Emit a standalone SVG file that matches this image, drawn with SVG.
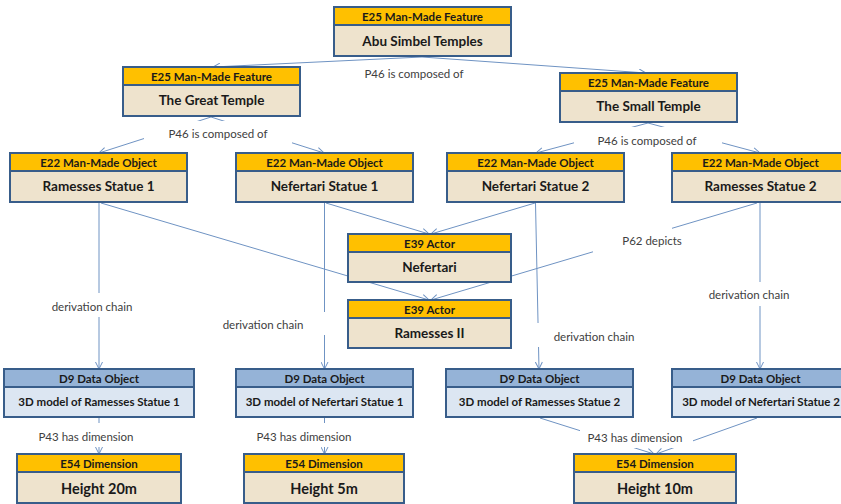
<svg xmlns="http://www.w3.org/2000/svg" width="841" height="504" viewBox="0 0 841 504">
<defs>
<marker id="arr" viewBox="0 0 8 8" refX="7.5" refY="4" markerWidth="8" markerHeight="8" markerUnits="userSpaceOnUse" orient="auto">
<path d="M0.5,0.5 L7.5,4 L0.5,7.5" fill="none" stroke="#6f93c3" stroke-width="1"/>
</marker>
<style>
.bx{stroke:#385d8a;stroke-width:2}
.eb{fill:#eee3cd}
.eh{fill:#ffc000}
.db{fill:#dce6f2}
.dh{fill:#95b3d7}
.ht{font-family:Lato,"Liberation Sans",sans-serif;font-weight:bold;font-size:11.5px;fill:#1a1a1a;text-anchor:middle;dominant-baseline:central}
.bt{font-family:Lato,"Liberation Sans",sans-serif;font-weight:bold;font-size:13.5px;fill:#1a1a1a;text-anchor:middle;dominant-baseline:central}
.dt{font-family:Lato,"Liberation Sans",sans-serif;font-weight:bold;font-size:11.5px;fill:#1a1a1a;text-anchor:middle;dominant-baseline:central}
.ht2{font-family:Lato,"Liberation Sans",sans-serif;font-weight:bold;font-size:14.5px;fill:#1a1a1a;text-anchor:middle;dominant-baseline:central}
.cn{fill:none;stroke:#6f93c3;stroke-width:1;marker-end:url(#arr)}
.lb{fill:#ffffff}
.lt{font-family:Lato,"Liberation Sans",sans-serif;font-size:11.5px;fill:#404040;text-anchor:middle;dominant-baseline:central}
</style>
</defs>
<rect width="841" height="504" fill="#ffffff"/>
<g id="connectors">
<line class="cn" x1="422" y1="57" x2="213" y2="67"/>
<line class="cn" x1="422" y1="57" x2="646" y2="73"/>
<line class="cn" x1="211" y1="117" x2="99" y2="153"/>
<line class="cn" x1="211" y1="117" x2="324" y2="153"/>
<line class="cn" x1="648" y1="123" x2="536" y2="153"/>
<line class="cn" x1="648" y1="123" x2="760" y2="153"/>
<line class="cn" x1="101" y1="203" x2="429" y2="300"/>
<line class="cn" x1="326" y1="203" x2="429" y2="234"/>
<line class="cn" x1="535" y1="203" x2="431" y2="234"/>
<line class="cn" x1="757" y1="203" x2="431" y2="300"/>
<line class="cn" x1="99" y1="203" x2="99" y2="369"/>
<line class="cn" x1="324.5" y1="203" x2="324.5" y2="369"/>
<line class="cn" x1="535.5" y1="203" x2="539" y2="369"/>
<line class="cn" x1="760" y1="203" x2="760" y2="369"/>
<line class="cn" x1="99" y1="418" x2="99" y2="454"/>
<line class="cn" x1="324.5" y1="418" x2="324.5" y2="454"/>
<line class="cn" x1="540" y1="418" x2="654" y2="454"/>
<line class="cn" x1="757" y1="418" x2="656" y2="454"/>
</g>
<g id="labels">
<text class="lt" x="414" y="73">P46 is composed of</text>
<rect class="lb" x="144" y="121" width="148" height="27"/>
<text class="lt" x="218" y="133">P46 is composed of</text>
<rect class="lb" x="574" y="127" width="148" height="24"/>
<text class="lt" x="647" y="140">P46 is composed of</text>
<rect class="lb" x="593" y="227" width="79" height="28"/>
<text class="lt" x="652" y="240">P62 depicts</text>
<rect class="lb" x="40" y="293" width="103" height="24"/>
<text class="lt" x="92" y="306">derivation chain</text>
<rect class="lb" x="212" y="312" width="120" height="23"/>
<text class="lt" x="263" y="324">derivation chain</text>
<rect class="lb" x="532" y="323" width="118" height="24"/>
<text class="lt" x="594" y="336">derivation chain</text>
<rect class="lb" x="700" y="282" width="100" height="24"/>
<text class="lt" x="749" y="294">derivation chain</text>
<rect class="lb" x="30" y="423" width="112" height="24"/>
<text class="lt" x="86" y="436">P43 has dimension</text>
<rect class="lb" x="250" y="423" width="108" height="24"/>
<text class="lt" x="304" y="436">P43 has dimension</text>
<rect class="lb" x="580" y="430" width="113" height="18"/>
<text class="lt" x="635" y="437">P43 has dimension</text>
</g>
<g id="n1"><rect class="bx eb" x="334" y="7" width="177" height="49"/><rect class="bx eh" x="334" y="7" width="177" height="18"/><text class="ht" x="422.5" y="16.5">E25 Man-Made Feature</text><text class="bt" x="422.5" y="40.5">Abu Simbel Temples</text></g>
<g id="n2"><rect class="bx eb" x="123" y="67" width="177" height="49"/><rect class="bx eh" x="123" y="67" width="177" height="18"/><text class="ht" x="211.5" y="76.5">E25 Man-Made Feature</text><text class="bt" x="211.5" y="100">The Great Temple</text></g>
<g id="n3"><rect class="bx eb" x="560" y="73" width="177" height="49"/><rect class="bx eh" x="560" y="73" width="177" height="18"/><text class="ht" x="648.5" y="82.5">E25 Man-Made Feature</text><text class="bt" x="648.5" y="106">The Small Temple</text></g>
<g id="n4"><rect class="bx eb" x="10" y="153" width="177" height="49"/><rect class="bx eh" x="10" y="153" width="177" height="18"/><text class="ht" x="98.5" y="162.5">E22 Man-Made Object</text><text class="bt" x="98.5" y="186">Ramesses Statue 1</text></g>
<g id="n5"><rect class="bx eb" x="236" y="153" width="177" height="49"/><rect class="bx eh" x="236" y="153" width="177" height="18"/><text class="ht" x="324.5" y="162.5">E22 Man-Made Object</text><text class="bt" x="324.5" y="186">Nefertari Statue 1</text></g>
<g id="n6"><rect class="bx eb" x="447" y="153" width="177" height="49"/><rect class="bx eh" x="447" y="153" width="177" height="18"/><text class="ht" x="535.5" y="162.5">E22 Man-Made Object</text><text class="bt" x="535.5" y="186">Nefertari Statue 2</text></g>
<g id="n7"><rect class="bx eb" x="672" y="153" width="177" height="49"/><rect class="bx eh" x="672" y="153" width="177" height="18"/><text class="ht" x="760.5" y="162.5">E22 Man-Made Object</text><text class="bt" x="760.5" y="186">Ramesses Statue 2</text></g>
<g id="n8"><rect class="bx eb" x="348" y="234" width="163" height="48"/><rect class="bx eh" x="348" y="234" width="163" height="18"/><text class="ht" x="429.5" y="243.5">E39 Actor</text><text class="bt" x="429.5" y="267">Nefertari</text></g>
<g id="n9"><rect class="bx eb" x="348" y="300" width="163" height="48"/><rect class="bx eh" x="348" y="300" width="163" height="18"/><text class="ht" x="429.5" y="309.5">E39 Actor</text><text class="bt" x="429.5" y="333">Ramesses II</text></g>
<g id="n10"><rect class="bx db" x="4" y="369" width="190" height="48"/><rect class="bx dh" x="4" y="369" width="190" height="18"/><text class="ht" x="99" y="378.5">D9 Data Object</text><text class="dt" x="99" y="401.5">3D model of Ramesses Statue 1</text></g>
<g id="n11"><rect class="bx db" x="236" y="369" width="177" height="48"/><rect class="bx dh" x="236" y="369" width="177" height="18"/><text class="ht" x="324.5" y="378.5">D9 Data Object</text><text class="dt" x="324.5" y="401.5">3D model of Nefertari Statue 1</text></g>
<g id="n12"><rect class="bx db" x="446" y="369" width="187" height="48"/><rect class="bx dh" x="446" y="369" width="187" height="18"/><text class="ht" x="539.5" y="378.5">D9 Data Object</text><text class="dt" x="539.5" y="401.5">3D model of Ramesses Statue 2</text></g>
<g id="n13"><rect class="bx db" x="672" y="369" width="177" height="48"/><rect class="bx dh" x="672" y="369" width="177" height="18"/><text class="ht" x="760.5" y="378.5">D9 Data Object</text><text class="dt" x="761" y="401.5">3D model of Nefertari Statue 2</text></g>
<g id="n14"><rect class="bx eb" x="17" y="454" width="164" height="49"/><rect class="bx eh" x="17" y="454" width="164" height="18"/><text class="ht" x="99" y="463.5">E54 Dimension</text><text class="ht2" x="99" y="488">Height 20m</text></g>
<g id="n15"><rect class="bx eb" x="244" y="454" width="160" height="49"/><rect class="bx eh" x="244" y="454" width="160" height="18"/><text class="ht" x="324" y="463.5">E54 Dimension</text><text class="ht2" x="324" y="488">Height 5m</text></g>
<g id="n16"><rect class="bx eb" x="574" y="454" width="162" height="49"/><rect class="bx eh" x="574" y="454" width="162" height="18"/><text class="ht" x="655" y="463.5">E54 Dimension</text><text class="ht2" x="655" y="488">Height 10m</text></g>
</svg>
